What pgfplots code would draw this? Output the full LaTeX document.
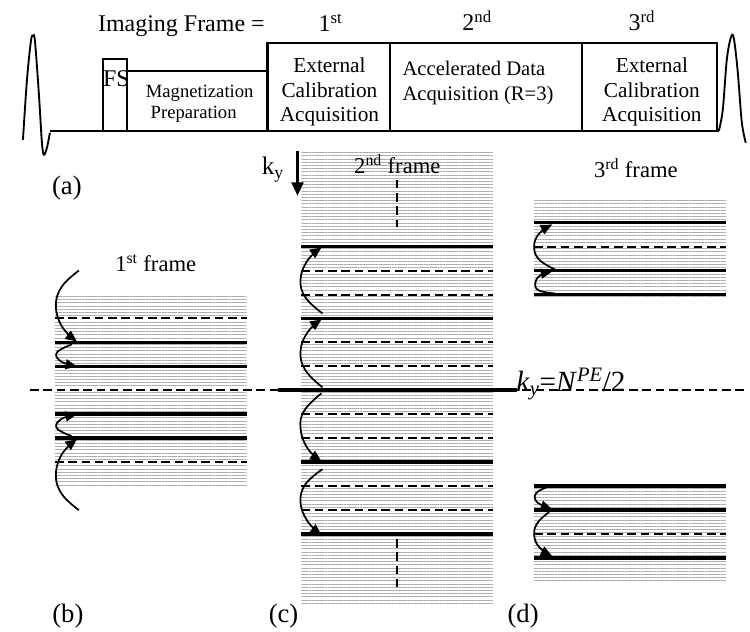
\documentclass[border=0pt]{standalone}
\usepackage{pgfplots}
\pgfplotsset{compat=1.18}
\usepackage{fontspec}
\setmainfont{Liberation Serif}
\usetikzlibrary{arrows.meta,patterns.meta}
\newcommand\fs[1]{\fontsize{#1}{#1}\selectfont}
\tikzset{
  stripes/.style={draw=none, pattern={Lines[angle=0,distance=2.4bp,line width=0.7bp]}, pattern color=black!32},
  solidk/.style={black, line width=2.8bp},
  dashk/.style={black, line width=1.5bp, dash pattern=on 6.5bp off 3.5bp},
  whiteu/.style={white, line width=1.9bp},
  box/.style={black, line width=1.7bp},
  arr/.style={black, line width=1.3bp, -{Triangle[length=8.5bp,width=7.5bp]}, smooth, tension=0.7},
}
\begin{document}
\begin{tikzpicture}
\begin{axis}[scale only axis, width=562.5bp, height=474.75bp,
  xmin=0, xmax=750, ymin=0, ymax=633, y dir=reverse, hide axis, clip=false]
\addplot[draw=none] coordinates {(0,0) (750,633)};
% ---------- (a) sequence ----------
\addplot[black, line width=1.4bp, smooth, tension=0.55] coordinates {(23,140) (27,80) (31,41) (33,36) (35,41) (39,95) (42,143) (44,155) (47,148) (50,133)};
\addplot[box] coordinates {(50,131) (720,131)};
\addplot[box] coordinates {(103,131) (103,59) (127,59) (127,131)};
\addplot[box] coordinates {(127,71) (268,71)};
\addplot[box] coordinates {(268,131) (268,43) (718,43) (718,131)};
\addplot[box] coordinates {(391,43) (391,131)};
\addplot[box] coordinates {(583,43) (583,131)};
\addplot[black, line width=1.4bp, smooth, tension=0.55] coordinates {(720,131) (724,110) (728,60) (732,38) (735,38) (739,72) (743,122) (747,143)};
\node[anchor=base west, inner sep=0pt] at (axis cs:98,32) {\fs{18bp}Imaging Frame =};
\node[anchor=base, inner sep=0pt] at (axis cs:331,32) {\fs{18bp}1\textsuperscript{st}};
\node[anchor=base, inner sep=0pt] at (axis cs:478,31) {\fs{18bp}2\textsuperscript{nd}};
\node[anchor=base, inner sep=0pt] at (axis cs:643,31) {\fs{18bp}3\textsuperscript{rd}};
\node[anchor=base west, inner sep=0pt] at (axis cs:103,87) {\fs{18bp}FS};
\node[anchor=base, inner sep=0pt] at (axis cs:200,98) {\fs{14bp}Magnetization};
\node[anchor=base, inner sep=0pt] at (axis cs:194,119) {\fs{14bp}Preparation};
\node[anchor=base, inner sep=0pt] at (axis cs:330,73) {\fs{16bp}External};
\node[anchor=base, inner sep=0pt] at (axis cs:330,98) {\fs{16bp}Calibration};
\node[anchor=base, inner sep=0pt] at (axis cs:330,122) {\fs{16bp}Acquisition};
\node[anchor=base west, inner sep=0pt] at (axis cs:403,76) {\fs{15.5bp}Accelerated Data};
\node[anchor=base west, inner sep=0pt] at (axis cs:403,101) {\fs{15.5bp}Acquisition (R=3)};
\node[anchor=base, inner sep=0pt] at (axis cs:653,73) {\fs{16bp}External};
\node[anchor=base, inner sep=0pt] at (axis cs:653,98) {\fs{16bp}Calibration};
\node[anchor=base, inner sep=0pt] at (axis cs:653,122) {\fs{16bp}Acquisition};
% ---------- stripes ----------
\addplot[stripes] coordinates {(55,295) (247,295) (247,487) (55,487) (55,295)};
\addplot[stripes] coordinates {(302,151) (494,151) (494,605) (302,605) (302,151)};
\addplot[stripes] coordinates {(535,199) (727,199) (727,297) (535,297) (535,199)};
\addplot[stripes] coordinates {(535,485) (727,485) (727,583) (535,583) (535,485)};
% ---------- centre line ----------
\addplot[whiteu] coordinates {(30,391) (750,391)};
\addplot[dashk] coordinates {(30,391) (750,391)};
\addplot[solidk] coordinates {(278,391) (518,391)};
% ---------- (b) ----------
\addplot[whiteu] coordinates {(55,319) (247,319)};
\addplot[dashk] coordinates {(55,319) (247,319)};
\addplot[whiteu] coordinates {(55,463) (247,463)};
\addplot[dashk] coordinates {(55,463) (247,463)};
\addplot[solidk] coordinates {(55,343) (247,343)};
\addplot[solidk] coordinates {(55,367) (247,367)};
\addplot[solidk] coordinates {(55,415) (247,415)};
\addplot[solidk] coordinates {(55,439) (247,439)};
\addplot[arr] coordinates {(79,271) (62,287) (56,306) (62,327) (77,342)};
\addplot[arr] coordinates {(72,345) (57,353) (61,362) (77,367)};
\addplot[arr] coordinates {(72,437) (57,429) (61,420) (77,415)};
\addplot[arr] coordinates {(79,511) (62,495) (56,476) (62,455) (77,440)};
% ---------- (c) ----------
\addplot[solidk] coordinates {(302,247) (494,247)};
\addplot[solidk] coordinates {(302,319) (494,319)};
\addplot[solidk] coordinates {(302,463) (494,463)};
\addplot[solidk] coordinates {(302,535) (494,535)};
\addplot[whiteu] coordinates {(302,271) (494,271)};
\addplot[dashk] coordinates {(302,271) (494,271)};
\addplot[whiteu] coordinates {(302,295) (494,295)};
\addplot[dashk] coordinates {(302,295) (494,295)};
\addplot[whiteu] coordinates {(302,343) (494,343)};
\addplot[dashk] coordinates {(302,343) (494,343)};
\addplot[whiteu] coordinates {(302,367) (494,367)};
\addplot[dashk] coordinates {(302,367) (494,367)};
\addplot[whiteu] coordinates {(302,415) (494,415)};
\addplot[dashk] coordinates {(302,415) (494,415)};
\addplot[whiteu] coordinates {(302,439) (494,439)};
\addplot[dashk] coordinates {(302,439) (494,439)};
\addplot[whiteu] coordinates {(302,487) (494,487)};
\addplot[dashk] coordinates {(302,487) (494,487)};
\addplot[whiteu] coordinates {(302,511) (494,511)};
\addplot[dashk] coordinates {(302,511) (494,511)};
\addplot[dashk] coordinates {(398,180) (398,227)};
\addplot[dashk] coordinates {(398,540) (398,588)};
\addplot[arr] coordinates {(323,388) (306,371) (301,352) (308,333) (322,320)};
\addplot[arr] coordinates {(323,314) (306,298) (301,280) (308,261) (322,248)};
\addplot[arr] coordinates {(322,394) (305,411) (301,429) (308,449) (322,462)};
\addplot[arr] coordinates {(323,470) (306,485) (301,503) (308,522) (322,536)};
\addplot[black, line width=1.7bp, -{Triangle[length=10bp,width=9bp]}] coordinates {(298,151) (298,196)};
\node[anchor=base west, inner sep=0pt] at (axis cs:262,175) {\fs{19bp}k\textsubscript{y}};
% ---------- (d) ----------
\addplot[solidk] coordinates {(535,223) (727,223)};
\addplot[whiteu] coordinates {(535,247) (727,247)};
\addplot[dashk] coordinates {(535,247) (727,247)};
\addplot[solidk] coordinates {(535,271) (727,271)};
\addplot[solidk] coordinates {(535,295) (727,295)};
\addplot[solidk] coordinates {(535,487) (727,487)};
\addplot[solidk] coordinates {(535,511) (727,511)};
\addplot[whiteu] coordinates {(535,535) (727,535)};
\addplot[dashk] coordinates {(535,535) (727,535)};
\addplot[solidk] coordinates {(535,559) (727,559)};
\addplot[arr] coordinates {(556,270) (540,260) (535,247) (540,234) (553,225)};
\addplot[arr] coordinates {(556,294) (540,291) (536,284) (541,276) (553,272)};
\addplot[arr] coordinates {(548,488) (537,494) (538,503) (553,510)};
\addplot[arr] coordinates {(550,513) (539,523) (535,535) (540,548) (553,557)};
% ---------- labels ----------
\node[anchor=base, inner sep=0pt] at (axis cs:156,272) {\fs{17bp}1\textsuperscript{st} frame};
\node[anchor=base, inner sep=0pt] at (axis cs:398,174) {\fs{17bp}2\textsuperscript{nd} frame};
\node[anchor=base, inner sep=0pt] at (axis cs:637,178) {\fs{17bp}3\textsuperscript{rd} frame};
\node[anchor=base west, inner sep=0pt] at (axis cs:517,392) {\fs{22bp}\textit{k}\textsubscript{\textit{y}}=\textit{N}\textsuperscript{\textit{PE}}/2};
\node[anchor=base, inner sep=0pt] at (axis cs:67,195) {\fs{20bp}(a)};
\node[anchor=base, inner sep=0pt] at (axis cs:68,624) {\fs{20bp}(b)};
\node[anchor=base, inner sep=0pt] at (axis cs:284,624) {\fs{20bp}(c)};
\node[anchor=base, inner sep=0pt] at (axis cs:524,624) {\fs{20bp}(d)};
\end{axis}
\end{tikzpicture}
\end{document}
